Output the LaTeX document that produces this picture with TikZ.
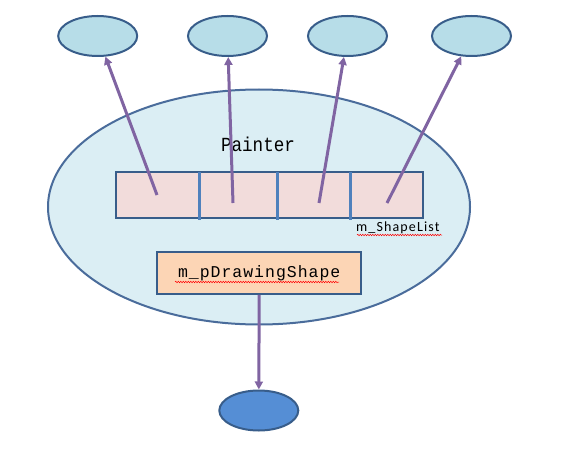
\documentclass[tikz,border=0pt]{standalone}
\usepackage{fontspec}
\newfontfamily\titlefont[FakeStretch=0.88]{Liberation Mono}
\newfontfamily\codefont[LetterSpace=6]{Liberation Mono}
\newfontfamily\notefont[LetterSpace=8]{Carlito}
\usetikzlibrary{shapes.geometric,arrows.meta,decorations.pathmorphing}
\definecolor{edgeblue}{HTML}{385D8A}
\definecolor{shapefill}{HTML}{B7DDE8}
\definecolor{painterfill}{HTML}{DBEEF4}
\definecolor{painteredge}{HTML}{4A6C9B}
\definecolor{listfill}{HTML}{F2DCDB}
\definecolor{slotblue}{HTML}{4F81BD}
\definecolor{ptrpurple}{HTML}{8064A2}
\definecolor{boxfill}{HTML}{FCD5B5}
\definecolor{currentfill}{HTML}{558ED5}
\tikzset{
  shapenode/.style={ellipse,draw=edgeblue,line width=2pt,fill=shapefill,
    minimum width=79pt,minimum height=40pt,inner sep=0pt},
  ptr/.style={-{Triangle[length=8pt,width=8pt]},draw=ptrpurple,line width=3pt},
  squiggle/.style={red,line width=0.5pt,decorate,
    decoration={snake,amplitude=0.7pt,segment length=2.5pt}}
}
\begin{document}
\begin{tikzpicture}[x=1pt,y=-1pt]
\useasboundingbox (0,0) rectangle (564,449);
% the painter object
\node[ellipse,draw=painteredge,line width=2pt,fill=painterfill,
  minimum width=422pt,minimum height=235pt] (painter) at (259,207) {};
\node[font=\titlefont\fontsize{20}{20}\selectfont] (title) at (258,144) {Painter};
% the shape list
\node[draw=edgeblue,line width=2pt,fill=listfill,
  minimum width=307pt,minimum height=46pt,inner sep=0pt] (list) at (269.4,194.9) {};
\foreach \x in {199,277,350}{
  \draw[slotblue,line width=3pt] (\x,172) -- (\x,219.5);
}
\node[font=\notefont\fontsize{14}{14}\selectfont,anchor=west,inner sep=0pt]
  (listname) at (356,228) {m\_ShapeList};
\draw[squiggle] (357,235) -- (442,235);
% shapes held in the list
\foreach \i/\x/\px/\py in {1/97.7/157/195,2/227.5/233/203,3/347.5/319/203,4/471.5/387/203}{
  \node[shapenode] (s\i) at (\x,36) {};
  \coordinate (slot\i) at (\px,\py);
  \draw[ptr] (slot\i) -- (s\i);
}
% shape being drawn
\node[draw=edgeblue,line width=2pt,fill=boxfill,minimum width=204pt,
  minimum height=42pt,inner sep=0pt,font=\codefont\fontsize{16.5}{16.5}\selectfont]
  (current) at (259.2,272.9) {m\_pDrawingShape};
\draw[squiggle] (175,282) -- (339,282);
\node[shapenode,fill=currentfill] (target) at (258.8,410.5) {};
\draw[ptr] (current) -- (target);
\end{tikzpicture}
\end{document}
